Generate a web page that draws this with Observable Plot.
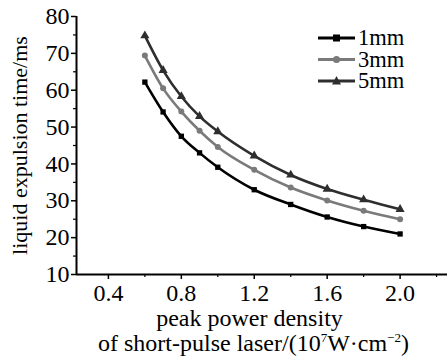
<!DOCTYPE html>
<html><head><meta charset="utf-8">
<script src="https://cdn.jsdelivr.net/npm/d3@7"></script>
<script src="https://cdn.jsdelivr.net/npm/@observablehq/plot@0.6"></script>
<style>
body{margin:0;background:#fff;}
#wrap{position:relative;width:447px;height:356px;font-family:'Liberation Serif','DejaVu Serif',serif;}
.xl{position:absolute;left:0;width:447px;text-align:center;font-size:24px;line-height:24px;color:#000;white-space:nowrap;}
.legend{position:absolute;left:318px;top:28px;display:flex;}
.legtext{font-size:22.5px;line-height:21.5px;margin-left:2px;margin-top:-1px;}
sup{font-size:13px;vertical-align:9px;line-height:0;}
</style></head><body>
<div id="wrap"></div>
<script>
const power = [0.6, 0.7, 0.8, 0.9, 1.0, 1.2, 1.4, 1.6, 1.8, 2.0];
const series = ["1mm", "3mm", "5mm"];
const t1mm = [62.2, 54.1, 47.5, 43.0, 39.1, 33.0, 29.0, 25.6, 23.0, 21.0];
const t3mm = [69.4, 60.5, 54.2, 49.0, 44.6, 38.4, 33.6, 30.1, 27.3, 25.0];
const t5mm = [74.8, 65.4, 58.3, 52.9, 48.8, 42.2, 37.0, 33.2, 30.3, 27.7];
const yTicks = [10, 20, 30, 40, 50, 60, 70, 80];
const yMinor = [15, 25, 35, 45, 55, 65, 75];
const xTicks = [0.4, 0.8, 1.2, 1.6, 2.0];
const xMinor = [0.6, 1.0, 1.4, 1.8, 2.2];

const colors = {"1mm": "#000000", "3mm": "#7a7a7a", "5mm": "#2e2e2e"};
const symbols = {"1mm": "square", "3mm": "circle", "5mm": "triangle"};
const rVals = {"1mm": 3.6, "3mm": 3.6, "5mm": 4.6};
const vals = {"1mm": t1mm, "3mm": t3mm, "5mm": t5mm};
const data = series.flatMap(s => power.map((p, i) => ({s, p, t: vals[s][i]})));

const font = "Liberation Serif";
const chart = Plot.plot({
  width: 447, height: 356,
  marginLeft: 76, marginRight: 0, marginTop: 16, marginBottom: 82,
  style: {fontFamily: "'Liberation Serif'", fontSize: "24px", color: "#000", background: "#fff"},
  x: {domain: [0.225, 2.26]},
  y: {domain: [10, 80]},
  marks: [
    Plot.axisY(yTicks, {tickSize: 5, tickPadding: 2, strokeWidth: 1.5, fontSize: 24, fontFamily: font, label: null}),
    Plot.axisY({ticks: [], tickSize: 0, fontSize: 22, fontFamily: font,
      label: "liquid expulsion time/ms", labelAnchor: "center", labelArrow: "none", labelOffset: 65}),
    Plot.axisY(yMinor, {tickSize: 3, strokeWidth: 1.2, text: null, label: null}),
    Plot.axisX(xTicks, {tickSize: 5, tickPadding: 4, strokeWidth: 1.5, fontSize: 24, fontFamily: font,
      tickFormat: d => d.toFixed(1), label: null}),
    Plot.axisX(xMinor, {tickSize: 3, strokeWidth: 1.2, text: null, label: null}),
    Plot.ruleX([0.225], {stroke: "#000", strokeWidth: 2}),
    Plot.ruleY([10], {stroke: "#000", strokeWidth: 2}),
    Plot.line(data, {x: "p", y: "t", z: "s", stroke: d => colors[d.s], strokeWidth: 2.6, curve: "monotone-x"}),
    Plot.dot(data, {x: "p", y: "t", fill: d => colors[d.s], stroke: "none",
      symbol: d => symbols[d.s], r: d => rVals[d.s]})
  ]
});
chart.style.position = "absolute"; chart.style.left = "0"; chart.style.top = "0";
const wrap = document.getElementById("wrap");
wrap.appendChild(chart);

const l1 = document.createElement("div");
l1.className = "xl"; l1.style.top = "306px"; l1.style.left = "26px";
l1.textContent = "peak power density";
wrap.appendChild(l1);
const l2 = document.createElement("div");
l2.className = "xl"; l2.style.top = "331px"; l2.style.left = "30px";
l2.innerHTML = "of short-pulse laser/(10<sup>7</sup>W·cm<sup>−2</sup>)";
wrap.appendChild(l2);

const leg = document.createElement("div");
leg.className = "legend";
const rowH = 21.5;
const sw = series.map((s, i) => {
  const c = colors[s], cy = 10 + i * rowH;
  let m;
  if (symbols[s] === "square") m = `<rect x="15" y="${cy - 3.5}" width="7" height="7" fill="${c}"/>`;
  else if (symbols[s] === "circle") m = `<circle cx="18.5" cy="${cy}" r="3.6" fill="${c}"/>`;
  else m = `<path d="M18.5,${cy - 5} L23,${cy + 3.5} L14,${cy + 3.5} Z" fill="${c}"/>`;
  return `<line x1="0" x2="37" y1="${cy}" y2="${cy}" stroke="${c}" stroke-width="3"/>${m}`;
}).join("");
leg.innerHTML = `<svg width="38" height="66">${sw}</svg><div class="legtext">${series.join("<br>")}</div>`;
wrap.appendChild(leg);
</script>
</body></html>
